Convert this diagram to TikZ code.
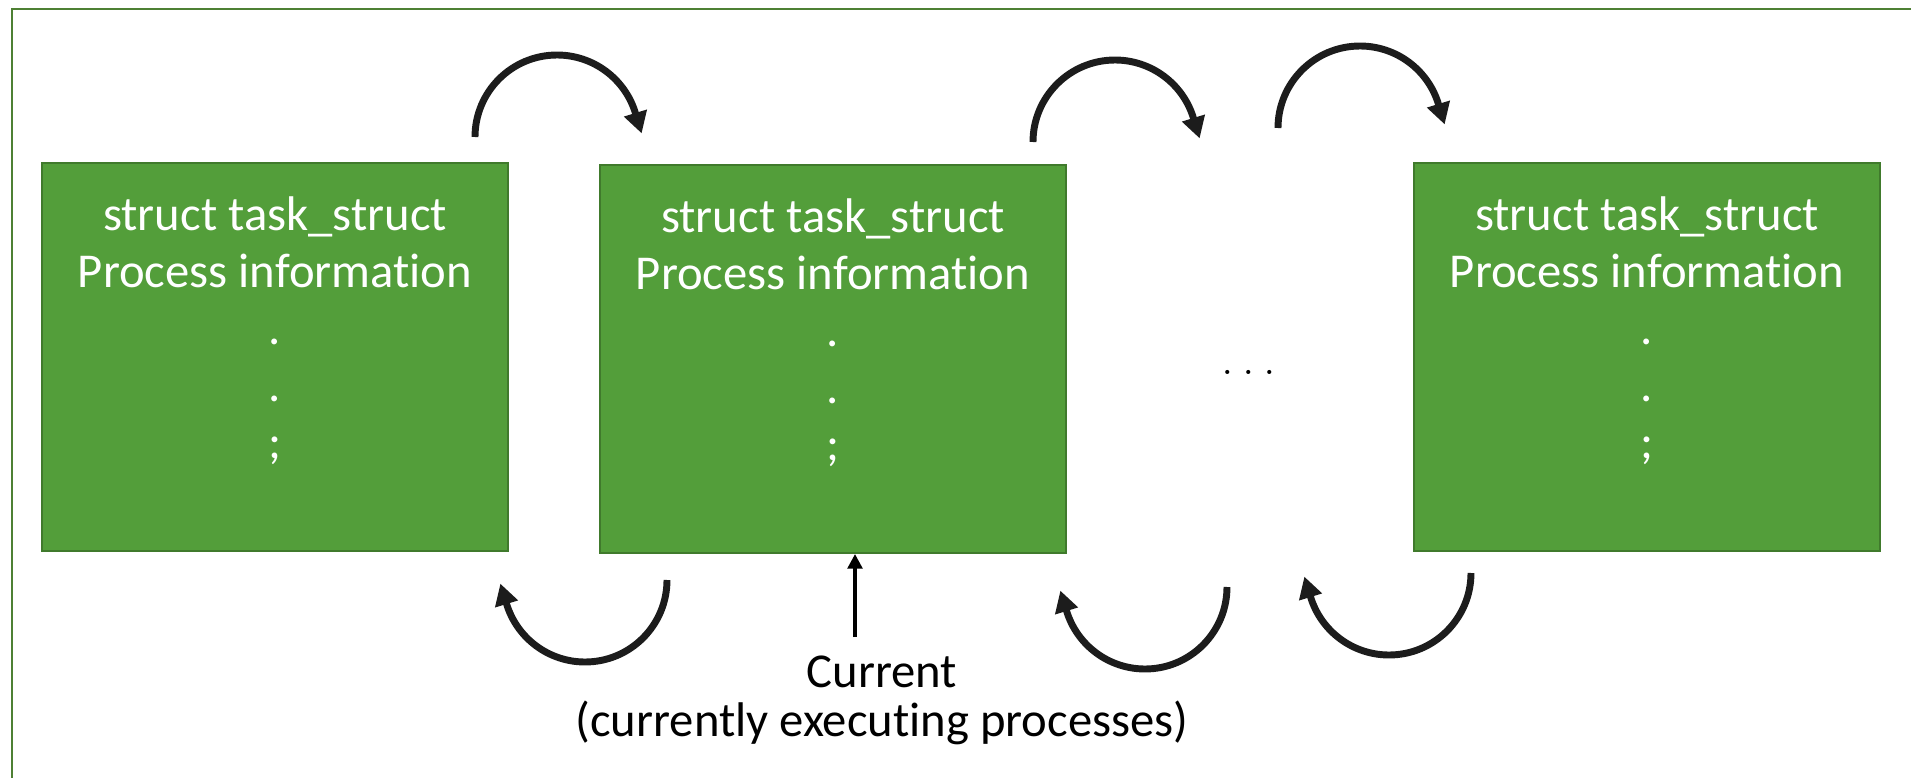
\documentclass[tikz,border=0pt]{standalone}
\usepackage{fontspec}
\setmainfont{Carlito}[Ligatures=NoCommon]
\usetikzlibrary{arrows.meta}

\definecolor{taskfill}{RGB}{83,158,58}
\definecolor{taskedge}{RGB}{64,122,44}
\definecolor{frameedge}{RGB}{78,128,52}
\definecolor{arcink}{RGB}{28,28,28}

\tikzset{
  taskbox/.style={draw=taskedge, fill=taskfill, line width=1.5pt,
    minimum width=349.5pt, minimum height=291pt, inner sep=0pt},
  tasktext/.style={text=white, align=center, inner sep=0pt,
    font=\fontsize{36.5pt}{42.75pt}\selectfont},
  cyclearrow/.style={draw=arcink, line width=5.2pt,
    -{Triangle[width=17pt, length=16pt]}},
  currarrow/.style={draw=black, line width=2.6pt,
    -{Triangle[width=11pt, length=11pt]}},
  labeltext/.style={text=black, align=center, inner sep=0pt,
    font=\fontsize{36.5pt}{36.75pt}\selectfont},
  frameline/.style={draw=frameedge, line width=1.6pt}
}

\begin{document}
\begin{tikzpicture}[x=0.75pt, y=-0.75pt]
  \useasboundingbox (0,0) rectangle (1911,778);

  % outer frame (top and left edges)
  \draw[frameline] (12,778) -- (12,9) -- (1911,9);

  % task_struct boxes
  \node[taskbox] (box1) at (275,357) {};
  \node[taskbox] (box2) at (833,359) {};
  \node[taskbox] (box3) at (1647,357) {};

  % box contents (anchored at the baseline of the last line)
  \node[tasktext, anchor=base] (text1) at (275,458)
    {struct task\_struct\\Process information\\.\\.\\;};
  \node[tasktext, anchor=base] (text2) at (833,460)
    {struct task\_struct\\Process information\\.\\.\\;};
  \node[tasktext, anchor=base] (text3) at (1647,458)
    {struct task\_struct\\Process information\\.\\.\\;};

  % ellipsis between the boxes
  \node[inner sep=0pt, anchor=base, font=\fontspec{Latin Modern Roman}\fontsize{37.5pt}{40pt}\selectfont]
    (more) at (1249,374) {.\kern0.167em.\kern0.167em.};

  % forward links (above)
  \coordinate (f1) at (475,137);
  \coordinate (f2) at (1033,142);
  \coordinate (f3) at (1278,128);
  \foreach \p in {f1,f2,f3}
    \draw[cyclearrow] (\p) arc[start angle=180, end angle=17, radius=61.5pt]
      -- ++(-73:16pt);

  % backward links (below)
  \coordinate (b1) at (667,580);
  \coordinate (b2) at (1227,587);
  \coordinate (b3) at (1471,573);
  \foreach \p in {b1,b2,b3}
    \draw[cyclearrow] (\p) arc[start angle=0, end angle=-163, radius=61.5pt]
      -- ++(107:16pt);

  % current pointer
  \coordinate (ctail) at (855,637);
  \draw[currarrow] (ctail) -- (ctail |- box2.south);
  \node[labeltext, anchor=base] (current) at (882,736)
    {Current\\(currently executing processes)};
\end{tikzpicture}
\end{document}
